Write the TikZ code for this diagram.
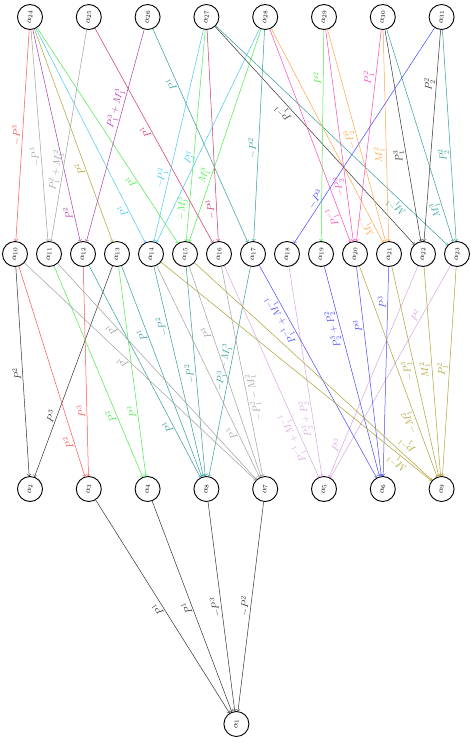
\documentclass[tikz,border=0pt]{standalone}
\usetikzlibrary{positioning}

\definecolor{ered}{RGB}{255,80,80}
\definecolor{egray}{RGB}{160,160,160}
\definecolor{epurple}{RGB}{170,60,170}
\definecolor{eolive}{RGB}{175,160,50}
\definecolor{ecyan}{RGB}{70,200,240}
\definecolor{egreen}{RGB}{70,235,70}
\definecolor{ecrimson}{RGB}{210,50,100}
\definecolor{eteal}{RGB}{50,155,155}
\definecolor{eblack}{RGB}{50,50,50}
\definecolor{epink}{RGB}{255,70,180}
\definecolor{eorange}{RGB}{255,165,70}
\definecolor{eblue}{RGB}{70,70,255}
\definecolor{eplum}{RGB}{215,165,225}

\tikzset{
  state/.style={circle, draw=black, line width=0.9pt, fill=white,
    minimum size=25pt, inner sep=0pt, font=\footnotesize, rotate=90},
  edge/.style={<-, line width=0.5pt},
  lbl/.style={sloped, allow upside down, above, inner sep=1.5pt},
}

\begin{document}
\begin{tikzpicture}[x=1pt, y=1pt, node distance=58.8pt, on grid]
  \useasboundingbox (0,0) rectangle (471,-745);

  % Define nodes

  % top row
  \node[state] (a24) at (30,-17) {$\alpha_{24}$}; %
  \node[right=of a24, state] (a25) {$\alpha_{25}$}; %
  \node[right=of a25, state] (a26) {$\alpha_{26}$}; %
  \node[right=of a26, state] (a27) {$\alpha_{27}$}; %
  \node[right=of a27, state] (a28) {$\alpha_{28}$}; %
  \node[right=of a28, state] (a29) {$\alpha_{29}$}; %
  \node[right=of a29, state] (a30) {$\alpha_{30}$}; %
  \node[right=of a30, state] (a31) {$\alpha_{31}$}; %

  % middle row
  \node[below=237pt of a24, xshift=-15pt, state] (a10) {$\alpha_{10}$}; %
  \node[right=34pt of a10, state] (a11) {$\alpha_{11}$}; %
  \node[right=34pt of a11, state] (a12) {$\alpha_{12}$}; %
  \node[right=34pt of a12, state] (a13) {$\alpha_{13}$}; %
  \node[right=34pt of a13, state] (a14) {$\alpha_{14}$}; %
  \node[right=34pt of a14, state] (a15) {$\alpha_{15}$}; %
  \node[right=34pt of a15, state] (a16) {$\alpha_{16}$}; %
  \node[right=34pt of a16, state] (a17) {$\alpha_{17}$}; %
  \node[right=34pt of a17, state] (a18) {$\alpha_{18}$}; %
  \node[right=34pt of a18, state] (a19) {$\alpha_{19}$}; %
  \node[right=34pt of a19, state] (a20) {$\alpha_{20}$}; %
  \node[right=34pt of a20, state] (a21) {$\alpha_{21}$}; %
  \node[right=34pt of a21, state] (a22) {$\alpha_{22}$}; %
  \node[right=34pt of a22, state] (a23) {$\alpha_{23}$}; %

  % lower row
  \node[below=235pt of a10, xshift=15pt, state] (a2) {$\alpha_2$}; %
  \node[right=of a2, state] (a3) {$\alpha_3$}; %
  \node[right=of a3, state] (a4) {$\alpha_4$}; %
  \node[right=of a4, state] (a8) {$\alpha_8$}; %
  \node[right=of a8, state] (a7) {$\alpha_7$}; %
  \node[right=of a7, state] (a5) {$\alpha_5$}; %
  \node[right=of a5, state] (a6) {$\alpha_6$}; %
  \node[right=of a6, state] (a9) {$\alpha_9$}; %

  % root
  \node[below=235pt of a8, xshift=30pt, state] (a1) {$\alpha_1$}; %

  % top row -> middle row
  \draw[edge, ered] (a10) -- node[lbl, pos=0.5] {$-P^3$} (a24);
  \draw[edge, egray] (a11) -- node[lbl, pos=0.4] {$-P^3$} (a24);
  \draw[edge, epurple] (a12) -- node[lbl, pos=0.14] {$P^2$} (a24);
  \draw[edge, eolive] (a13) -- node[lbl, pos=0.35] {$P^2$} (a24);
  \draw[edge, ecyan] (a14) -- node[lbl, pos=0.16] {$P^1$} (a24);
  \draw[edge, egreen] (a15) -- node[lbl, pos=0.3] {$P^1$} (a24);
  \draw[edge, egray] (a11) -- node[lbl, pos=0.33] {$P_1^2+M_1^2$} (a25);
  \draw[edge, ecrimson] (a16) -- node[lbl, pos=0.53] {$P^1$} (a25);
  \draw[edge, epurple] (a12) -- node[lbl, pos=0.62] {$P_1^3+M_1^3$} (a26);
  \draw[edge, eteal] (a17) -- node[lbl, pos=0.75] {$P^1$} (a26);
  \draw[edge, ecyan] (a14) -- node[lbl, pos=0.29] {$-P_1^2$} (a27);
  \draw[edge, egreen] (a15) -- node[lbl, pos=0.15] {$-M_1^3$} (a27);
  \draw[edge, ecrimson] (a16) -- node[lbl, pos=0.15] {$-P^3$} (a27);
  \draw[edge, eblack] (a22) -- node[lbl, pos=0.63] {$P_1^{-1}$} (a27);
  \draw[edge, eteal] (a23) -- node[lbl, pos=0.2] {$M_1^{-1}$} (a27);
  \draw[edge, ecyan] (a14) -- node[lbl, pos=0.38] {$P_1^3$} (a28);
  \draw[edge, egreen] (a15) -- node[lbl, pos=0.3] {$M_1^3$} (a28);
  \draw[edge, eteal] (a17) -- node[lbl, pos=0.44] {$-P^2$} (a28);
  \draw[edge, epink] (a20) -- node[lbl, pos=0.13] {$P_1^{-1}$} (a28);
  \draw[edge, eorange] (a21) -- node[lbl, pos=0.09] {$M_1^{-1}$} (a28);
  \draw[edge, egreen] (a19) -- node[lbl, pos=0.77] {$P^2$} (a29);
  \draw[edge, epink] (a20) -- node[lbl, pos=0.26] {$-P_2^3$} (a29);
  \draw[edge, eorange] (a21) -- node[lbl, pos=0.49] {$-P_2^3$} (a29);
  \draw[edge, epink] (a20) -- node[lbl, pos=0.77] {$P_1^2$} (a30);
  \draw[edge, eorange] (a21) -- node[lbl, pos=0.41] {$M_1^2$} (a30);
  \draw[edge, eblack] (a22) -- node[lbl, pos=0.41] {$P_1^3$} (a30);
  \draw[edge, eteal] (a23) -- node[lbl, pos=0.16] {$M_1^3$} (a30);
  \draw[edge, eblue] (a18) -- node[lbl, pos=0.19] {$-P^3$} (a31);
  \draw[edge, eblack] (a22) -- node[lbl, pos=0.74] {$P_2^2$} (a31);
  \draw[edge, eteal] (a23) -- node[lbl, pos=0.41] {$P_2^2$} (a31);

  % middle row -> lower row
  \draw[edge, eblack] (a2) -- node[lbl, pos=0.49] {$P^2$} (a10);
  \draw[edge, eblack] (a2) -- node[lbl, pos=0.28] {$P^3$} (a13);
  \draw[edge, ered] (a3) -- node[lbl, pos=0.17] {$P^2$} (a10);
  \draw[edge, ered] (a3) -- node[lbl, pos=0.31] {$P^3$} (a12);
  \draw[edge, egreen] (a4) -- node[lbl, pos=0.3] {$P^2$} (a11);
  \draw[edge, egreen] (a4) -- node[lbl, pos=0.31] {$P^3$} (a13);
  \draw[edge, eteal] (a8) -- node[lbl, pos=0.25] {$P^1$} (a12);
  \draw[edge, eteal] (a8) -- node[lbl, pos=0.68] {$P^1$} (a13);
  \draw[edge, eteal] (a8) -- node[lbl, pos=0.72] {$-P^2$} (a14);
  \draw[edge, eteal] (a8) -- node[lbl, pos=0.49] {$-P^2$} (a15);
  \draw[edge, eteal] (a8) -- node[lbl, pos=0.51] {$-P_1^3-M_1^3$} (a17);
  \draw[edge, egray] (a7) -- node[lbl, pos=0.56] {$P^1$} (a10);
  \draw[edge, egray] (a7) -- node[lbl, pos=0.71] {$P^1$} (a11);
  \draw[edge, egray] (a7) -- node[lbl, pos=0.22] {$P^3$} (a14);
  \draw[edge, egray] (a7) -- node[lbl, pos=0.69] {$P^3$} (a15);
  \draw[edge, egray] (a7) -- node[lbl, below, pos=0.37] {$-P_1^2-M_1^2$} (a16);
  \draw[edge, eplum] (a5) -- node[lbl, pos=0.2] {$P_1^{-1}+M_1^{-1}$} (a16);
  \draw[edge, eplum] (a5) -- node[lbl, pos=0.28] {$P_2^3+P_2^2$} (a18);
  \draw[edge, eplum] (a5) -- node[lbl, pos=0.14] {$P^3$} (a22);
  \draw[edge, eplum] (a5) -- node[lbl, pos=0.75] {$P^2$} (a23);
  \draw[edge, eblue] (a6) -- node[lbl, pos=0.76] {$P_1^{-1}+M_1^{-1}$} (a17);
  \draw[edge, eblue] (a6) -- node[lbl, pos=0.71] {$P_2^3+P_2^2$} (a19);
  \draw[edge, eblue] (a6) -- node[lbl, pos=0.72] {$P^3$} (a20);
  \draw[edge, eblue] (a6) -- node[lbl, pos=0.83] {$P^3$} (a21);
  \draw[edge, eolive] (a9) -- node[lbl, pos=0.11] {$M_1^{-1}$} (a14);
  \draw[edge, eolive] (a9) -- node[lbl, below=2pt, pos=0.13] {$P_1^{-1}$} (a15);
  \draw[edge, eolive] (a9) -- node[lbl, pos=0.27] {$-M_1^2$} (a20);
  \draw[edge, eolive] (a9) -- node[lbl, pos=0.51] {$-P_1^3$} (a21);
  \draw[edge, eolive] (a9) -- node[lbl, pos=0.51] {$M_1^2$} (a22);
  \draw[edge, eolive] (a9) -- node[lbl, pos=0.51] {$P_1^2$} (a23);

  % lower row -> root
  \draw[edge, eblack] (a1) -- node[lbl, pos=0.5] {$P^1$} (a3);
  \draw[edge, eblack] (a1) -- node[lbl, pos=0.5] {$P^1$} (a4);
  \draw[edge, eblack] (a1) -- node[lbl, pos=0.5] {$-P^3$} (a8);
  \draw[edge, eblack] (a1) -- node[lbl, pos=0.5] {$-P^2$} (a7);

\end{tikzpicture}
\end{document}
